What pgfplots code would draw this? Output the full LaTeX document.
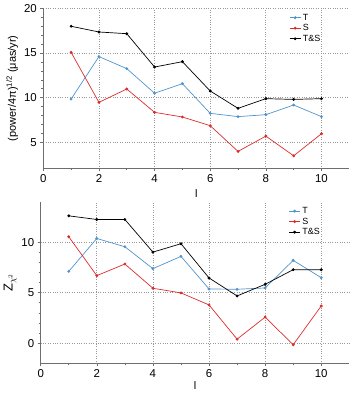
\documentclass[border=0pt]{standalone}
\usepackage{fontspec}
\setmainfont{Liberation Sans}
\usepackage{pgfplots}
\pgfplotsset{compat=1.18}
\definecolor{tblue}{RGB}{80,148,205}
\definecolor{sred}{RGB}{220,45,45}
\definecolor{axgray}{RGB}{110,110,110}
\pgfplotsset{
  myax/.style={
    scale only axis,
    width=306bp,
    xmin=0, xmax=11,
    xtick={0,2,...,10},
    minor x tick num=1,
    minor y tick num=4,
    tick align=outside,
    major tick length=3bp,
    minor tick length=2bp,
    tick style={axgray, line width=0.6pt},
    axis line style={axgray, line width=0.8pt},
    axis x line*=bottom,
    axis y line*=left,
    grid=major,
    major grid style={dotted, gray!80, line width=0.7pt},
    /pgf/number format/assume math mode=true,
    ticklabel style={font=\fontsize{11.5}{13}\selectfont},
    label style={font=\fontsize{11}{13}\selectfont},
    xlabel={l},
    legend style={draw=none, fill=none, at={(0.8,0.985)}, anchor=north west,
      font=\fontsize{9}{10}\selectfont, row sep=-1.2bp, inner sep=1pt},
    legend cell align=left,
    legend image code/.code={\draw[#1] (0bp,0bp) -- (11bp,0bp); \fill[#1] (5.5bp,0bp) circle (1.1bp);},
    every axis plot/.append style={line width=0.7pt, mark=*, mark size=1.1bp},
  }
}
\begin{document}
\begin{tikzpicture}
\path[use as bounding box] (0,0) rectangle (352bp,-393bp);
\begin{axis}[myax,
  at={(43.3bp,-8.3bp)}, anchor=north west,
  height=160bp,
  ymin=2.1, ymax=20,
  ytick={5,10,15,20},
  ylabel={(power/4π)\textsuperscript{1/2} (μas/yr)},
  ylabel style={yshift=-1bp},
]
\addplot[tblue] coordinates {(1,9.85) (2,14.6) (3,13.25) (4,10.5) (5,11.57) (6,8.25) (7,7.88) (8,8.1) (9,9.18) (10,7.88)};
\addlegendentry{T}
\addplot[sred] coordinates {(1,15.07) (2,9.48) (3,10.97) (4,8.36) (5,7.84) (6,6.87) (7,3.99) (8,5.7) (9,3.5) (10,5.97)};
\addlegendentry{S}
\addplot[black] coordinates {(1,17.99) (2,17.35) (3,17.16) (4,13.43) (5,14.03) (6,10.75) (7,8.81) (8,9.89) (9,9.81) (10,9.89)};
\addlegendentry{T\&S}
\end{axis}
\begin{axis}[myax,
  at={(40.7bp,-201.7bp)}, anchor=north west,
  width=308.6bp, height=161.6bp,
  ymin=-2, ymax=14,
  ytick={0,5,10},
  ylabel={\fontsize{13}{14}\selectfont Z$_{\chi^2}$},
  ylabel style={yshift=-2bp},
  xlabel style={yshift=3bp},
]
\addplot[tblue] coordinates {(1,7.1) (2,10.36) (3,9.54) (4,7.37) (5,8.59) (6,5.36) (7,5.33) (8,5.46) (9,8.19) (10,6.48)};
\addlegendentry{T}
\addplot[sred] coordinates {(1,10.53) (2,6.68) (3,7.83) (4,5.43) (5,4.97) (6,3.78) (7,0.39) (8,2.57) (9,-0.16) (10,3.68)};
\addlegendentry{S}
\addplot[black] coordinates {(1,12.6) (2,12.24) (3,12.24) (4,9.01) (5,9.84) (6,6.45) (7,4.67) (8,5.82) (9,7.27) (10,7.27)};
\addlegendentry{T\&S}
\end{axis}
\end{tikzpicture}
\end{document}
